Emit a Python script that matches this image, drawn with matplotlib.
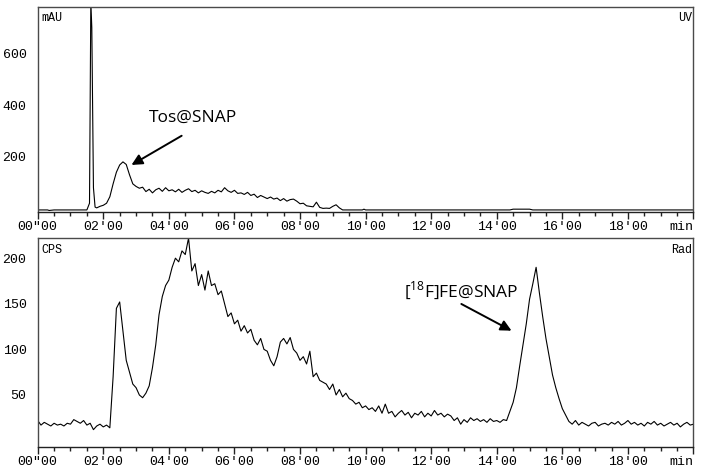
import numpy as np
import matplotlib
matplotlib.use("Agg")
import matplotlib.pyplot as plt

# ---------------- data ----------------
uv_time = [0.0, 0.3, 0.35, 0.5, 1.5, 1.58, 1.62, 1.65, 1.7, 1.75, 1.8, 1.9,
           2.0, 2.1, 2.2, 2.3, 2.4, 2.5, 2.6, 2.7, 2.8, 2.9, 3.0, 3.1, 3.2,
           3.3, 3.4, 3.5, 3.6, 3.7, 3.8, 3.9, 4.0, 4.1, 4.2, 4.3, 4.4, 4.5,
           4.6, 4.7, 4.8, 4.9, 5.0, 5.1, 5.2, 5.3, 5.4, 5.5, 5.6, 5.7, 5.8,
           5.9, 6.0, 6.1, 6.2, 6.3, 6.4, 6.5, 6.6, 6.7, 6.8, 6.9, 7.0, 7.1,
           7.2, 7.3, 7.4, 7.5, 7.6, 7.7, 7.8, 7.9, 8.0, 8.1, 8.2, 8.3, 8.4,
           8.5, 8.6, 8.7, 8.8, 8.9, 9.0, 9.1, 9.2, 9.3, 9.9, 9.95, 10.0,
           14.4, 14.5, 15.0, 15.1, 20.0]
uv_mau = [-6, -6, -8, -6, -6, 20, 800, 700, 80, 5, 2, 8,
          12, 20, 45, 95, 140, 168, 180, 170, 130, 95, 85, 78, 82,
          65, 74, 60, 72, 78, 66, 80, 68, 72, 64, 74, 62, 70,
          76, 65, 70, 60, 68, 62, 58, 66, 60, 70, 64, 80, 68,
          62, 70, 58, 60, 54, 62, 50, 55, 42, 50, 44, 38, 44,
          36, 40, 30, 38, 28, 34, 36, 28, 18, 20, 10, 8, 6,
          24, 4, 0, 1, 0, 8, 14, 2, -6, -6, -3, -6,
          -6, -3, -3, -6, -6]

rad_step = 0.1  # minutes between samples, starting at 0
rad_cps = [22, 17, 20, 18, 16, 19, 17, 18, 16, 19,
           18, 23, 21, 19, 22, 17, 19, 12, 16, 18,
           15, 17, 14, 70, 145, 152, 120, 88, 75, 62,
           58, 50, 47, 52, 60, 80, 105, 138, 158, 170,
           176, 190, 200, 196, 208, 204, 222, 186, 194, 170,
           182, 165, 186, 170, 172, 160, 164, 150, 136, 140,
           128, 132, 120, 126, 118, 122, 110, 105, 112, 100,
           98, 88, 82, 92, 108, 112, 106, 113, 100, 96,
           88, 92, 84, 98, 70, 74, 66, 64, 62, 56,
           62, 50, 56, 48, 52, 46, 44, 40, 42, 36,
           38, 34, 36, 32, 38, 30, 40, 30, 32, 26,
           30, 33, 28, 31, 25, 30, 28, 32, 26, 30,
           27, 33, 28, 30, 26, 29, 27, 22, 25, 18,
           23, 20, 25, 22, 24, 21, 23, 20, 24, 21,
           22, 20, 23, 22, 32, 42, 58, 82, 105, 128,
           155, 172, 190, 162, 136, 112, 92, 72, 58, 46,
           35, 28, 21, 18, 22, 17, 20, 18, 16, 19,
           20, 16, 18, 19, 17, 20, 18, 21, 17, 19,
           22, 18, 20, 17, 19, 16, 20, 18, 21, 17,
           19, 16, 18, 20, 17, 19, 15, 18, 20, 17,
           18]
rad_time = np.arange(len(rad_cps)) * rad_step

x_major = list(range(0, 21, 2))
x_labels = ['00"00', "02'00", "04'00", "06'00", "08'00", "10'00",
            "12'00", "14'00", "16'00", "18'00", "min"]
uv_yticks = [200, 400, 600]
rad_yticks = [50, 100, 150, 200]

# ---------------- figure ----------------
W, H, DPI = 702, 469, 100
fig = plt.figure(figsize=(W / DPI, H / DPI), dpi=DPI)
plt.rcParams['mathtext.fontset'] = 'custom'
plt.rcParams['mathtext.rm'] = 'Open Sans'

mono = 'Liberation Mono'
ann_font = 'Open Sans'
spine_col = '#4a4a4a'

ax1 = fig.add_axes([37.7 / W, 1 - 211.7 / H, (693.5 - 37.7) / W, (211.7 - 7.3) / H])
ax2 = fig.add_axes([37.7 / W, 1 - 446.7 / H, (693.5 - 37.7) / W, (446.7 - 238.3) / H])


def style(ax, yticks, ylim, lt, rt):
    ax.set_xlim(0, 20)
    ax.set_ylim(*ylim)
    ax.set_xticks(x_major)
    ax.set_xticklabels(x_labels, fontfamily=mono, fontsize=9.5)
    ax.get_xticklabels()[-1].set_horizontalalignment('right')
    ax.set_xticks(np.arange(0, 20.01, 0.5), minor=True)
    ax.set_yticks(yticks)
    ax.set_yticklabels([str(v) for v in yticks], fontfamily=mono, fontsize=9.5)
    ax.tick_params(axis='x', which='major', direction='out', length=5, width=1,
                   pad=2, color='#222222')
    ax.tick_params(axis='x', which='minor', direction='out', length=3, width=1,
                   color='#222222')
    ax.tick_params(axis='y', length=0, pad=8)
    for s in ax.spines.values():
        s.set_color(spine_col)
        s.set_linewidth(1.0)
    ax.spines['bottom'].set_color('#222222')
    ax.text(0.005, 0.975, lt, transform=ax.transAxes, ha='left', va='top',
            fontfamily=mono, fontsize=8.5)
    ax.text(0.998, 0.975, rt, transform=ax.transAxes, ha='right', va='top',
            fontfamily=mono, fontsize=8.5)


ax1.plot(uv_time, uv_mau, color='black', lw=0.8)
style(ax1, uv_yticks, (-12.8, 778), 'mAU', 'UV')
ax1.text(4.75, 352, 'Tos@SNAP', fontfamily=ann_font, fontsize=12.5,
         ha='center', va='center')
ax1.annotate('', xy=(2.86, 168), xytext=(4.39, 281),
             arrowprops=dict(arrowstyle='-|>', color='black', lw=1.4,
                             mutation_scale=16, shrinkA=0, shrinkB=0))

ax2.plot(rad_time, rad_cps, color='black', lw=0.8)
style(ax2, rad_yticks, (-6.7, 221.8), 'CPS', 'Rad')
ax2.text(12.9, 165, r'[$^{\mathrm{18}}$F]FE@SNAP', fontfamily=ann_font,
         fontsize=12.5, ha='center', va='center')
ax2.annotate('', xy=(14.45, 120.5), xytext=(12.92, 149.8),
             arrowprops=dict(arrowstyle='-|>', color='black', lw=1.4,
                             mutation_scale=16, shrinkA=0, shrinkB=0))

fig.savefig('out.png', dpi=DPI)
